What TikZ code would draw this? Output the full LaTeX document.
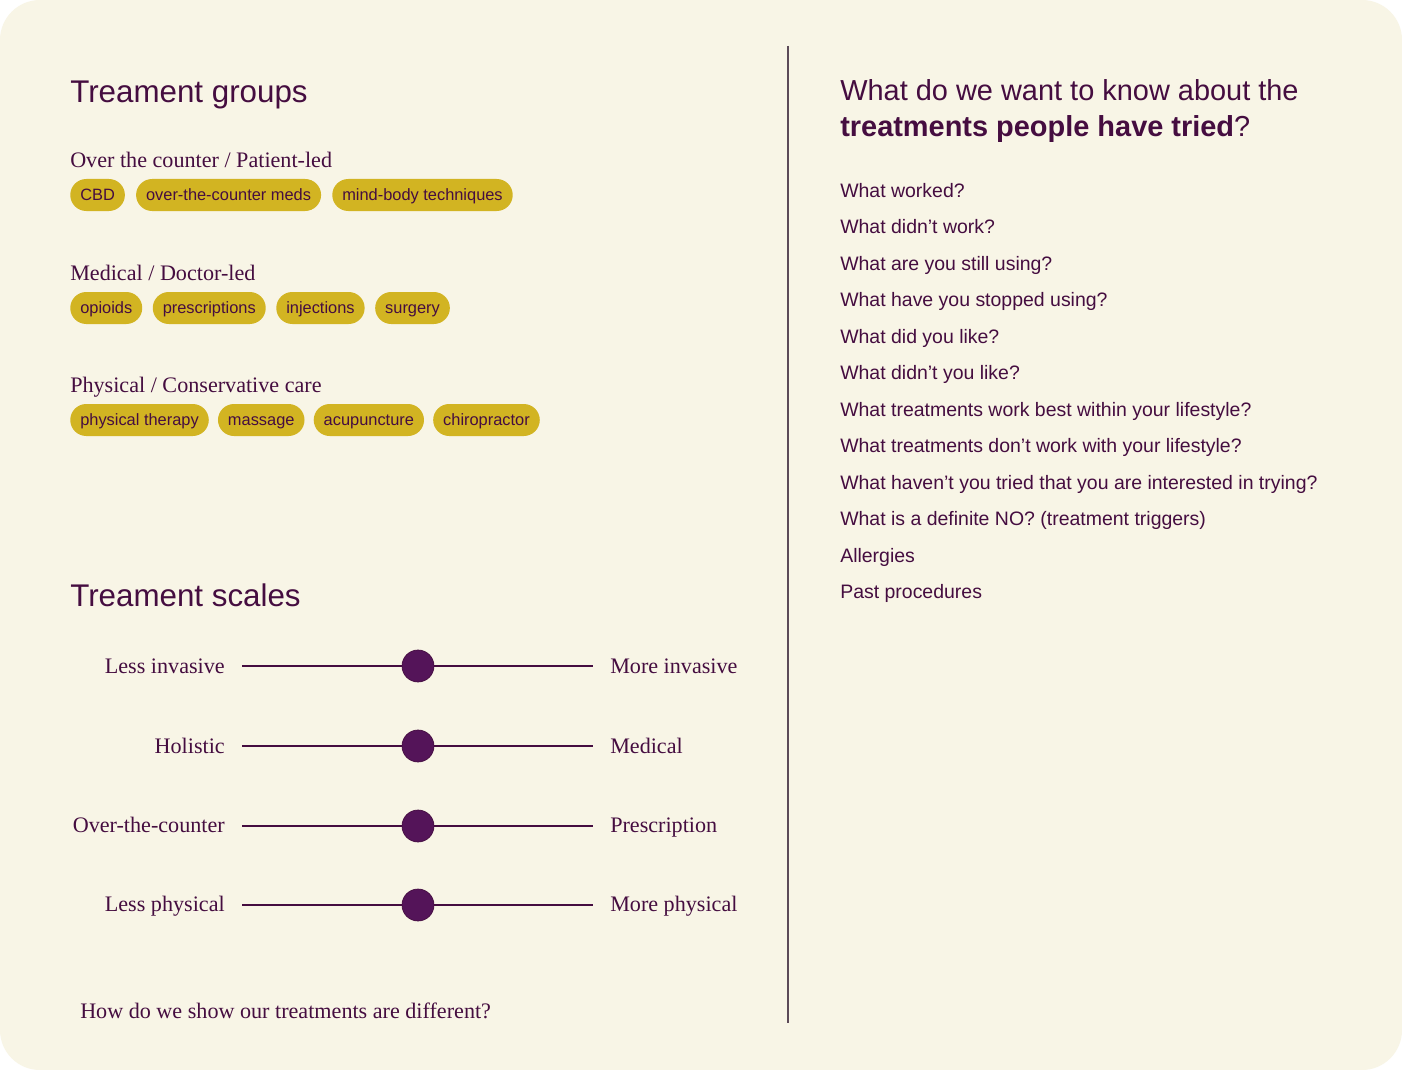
\documentclass[tikz,border=0pt]{standalone}
\usepackage{fontspec}
\setmainfont{Liberation Serif}
\setsansfont{Liberation Sans}
\usepackage{tikz}
\usetikzlibrary{positioning}
\definecolor{cream}{HTML}{F8F5E6}
\definecolor{plum}{HTML}{450D40}
\definecolor{knobfill}{HTML}{541459}
\definecolor{mustard}{HTML}{D2B422}
\definecolor{rulecol}{HTML}{5C4A58}
\tikzset{
    head/.style={anchor=base west, inner sep=0pt, text=plum, font=\sffamily\fontsize{23.5}{28}\selectfont},
    group/.style={anchor=base west, inner sep=0pt, text=plum, font=\fontsize{16.6}{19}\selectfont},
    pill/.style={fill=mustard, text=plum, rounded corners=12pt, inner xsep=7.5pt, inner ysep=0pt,
        minimum height=24pt, text height=1.65ex, text depth=0pt, font=\sffamily\fontsize{12.3}{14}\selectfont},
    lbl/.style={inner sep=0pt, text=plum, font=\fontsize{16.6}{19}\selectfont},
    knob/.style={circle, fill=knobfill, draw=plum, line width=0.5pt, minimum size=24pt, inner sep=0pt},
    track/.style={draw=plum, line width=1pt},
    ask/.style={anchor=base west, inner sep=0pt, text=plum, font=\sffamily\fontsize{14.6}{17}\selectfont}
}
\begin{document}
\begin{tikzpicture}[x=0.75pt, y=-0.75pt]
    \useasboundingbox (0,0) rectangle (1402,1070);
    \fill[white] (0,0) rectangle (1402,1070);
    \fill[cream, rounded corners=30pt] (0,0) rectangle (1402,1070);

    % left column: groups
    \node[head] (groups) at (70,103) {Treament groups};

    \node[group] (otc) at (70,167) {Over the counter / Patient-led};
    \node[pill, anchor=west] (cbd) at (70,195) {CBD};
    \node[pill, right=8pt of cbd] (meds) {over-the-counter meds};
    \node[pill, right=8pt of meds] (mind) {mind-body techniques};

    \node[group] (med) at (70,280) {Medical / Doctor-led};
    \node[pill, anchor=west] (opi) at (70,308) {opioids};
    \node[pill, right=7.5pt of opi] (pres) {prescriptions};
    \node[pill, right=7.5pt of pres] (inj) {injections};
    \node[pill, right=7.5pt of inj] (surg) {surgery};

    \node[group] (phys) at (70,392) {Physical / Conservative care};
    \node[pill, anchor=west] (pt) at (70,420) {physical therapy};
    \node[pill, right=6.5pt of pt] (mass) {massage};
    \node[pill, right=6.5pt of mass] (acu) {acupuncture};
    \node[pill, right=6.5pt of acu] (chiro) {chiropractor};

    % left column: scales
    \node[head] (scales) at (70,606) {Treament scales};

    \node[lbl, anchor=base east] (lessinv) at (225,673) {Less invasive};
    \node[lbl, anchor=base west] (moreinv) at (610,673) {More invasive};
    \coordinate (inva) at (242,666);
    \coordinate (invb) at (593,666);
    \draw[track] (inva) -- (invb);
    \node[knob] (invk) at (418,666) {};

    \node[lbl, anchor=base east] (holi) at (225,753) {Holistic};
    \node[lbl, anchor=base west] (medi) at (610,753) {Medical};
    \coordinate (hola) at (242,746);
    \coordinate (holb) at (593,746);
    \draw[track] (hola) -- (holb);
    \node[knob] (holk) at (418,746) {};

    \node[lbl, anchor=base east] (otcl) at (225,832) {Over-the-counter};
    \node[lbl, anchor=base west] (presr) at (610,832) {Prescription};
    \coordinate (otca) at (242,826);
    \coordinate (otcb) at (593,826);
    \draw[track] (otca) -- (otcb);
    \node[knob] (otck) at (418,826) {};

    \node[lbl, anchor=base east] (lessphy) at (225,911) {Less physical};
    \node[lbl, anchor=base west] (morephy) at (610,911) {More physical};
    \coordinate (phya) at (242,905);
    \coordinate (phyb) at (593,905);
    \draw[track] (phya) -- (phyb);
    \node[knob] (phyk) at (418,905) {};

    \node[lbl, anchor=base west] (diff) at (80,1018) {How do we show our treatments are different?};

    % divider
    \coordinate (divtop) at (788,46);
    \coordinate (divbot) at (788,1023);
    \draw[rulecol, line width=0.8pt] (divtop) -- (divbot);

    % right column
    \node[head, font=\sffamily\fontsize{21.7}{26}\selectfont] (want) at (840,101) {What do we want to know about the};
    \node[head, font=\sffamily\fontsize{21.7}{26}\selectfont] (tried) at (840,137) {\textbf{treatments people have tried}?};

    \node[ask] (q1) at (840,197) {What worked?};
    \node[ask] (q2) at (840,233.5) {What didn’t work?};
    \node[ask] (q3) at (840,270) {What are you still using?};
    \node[ask] (q4) at (840,306.5) {What have you stopped using?};
    \node[ask] (q5) at (840,343) {What did you like?};
    \node[ask] (q6) at (840,379.5) {What didn’t you like?};
    \node[ask] (q7) at (840,416) {What treatments work best within your lifestyle?};
    \node[ask] (q8) at (840,452.5) {What treatments don’t work with your lifestyle?};
    \node[ask] (q9) at (840,489) {What haven’t you tried that you are interested in trying?};
    \node[ask] (q10) at (840,525.5) {What is a definite NO? (treatment triggers)};
    \node[ask] (q11) at (840,562) {Allergies};
    \node[ask] (q12) at (840,598.5) {Past procedures};
\end{tikzpicture}
\end{document}
